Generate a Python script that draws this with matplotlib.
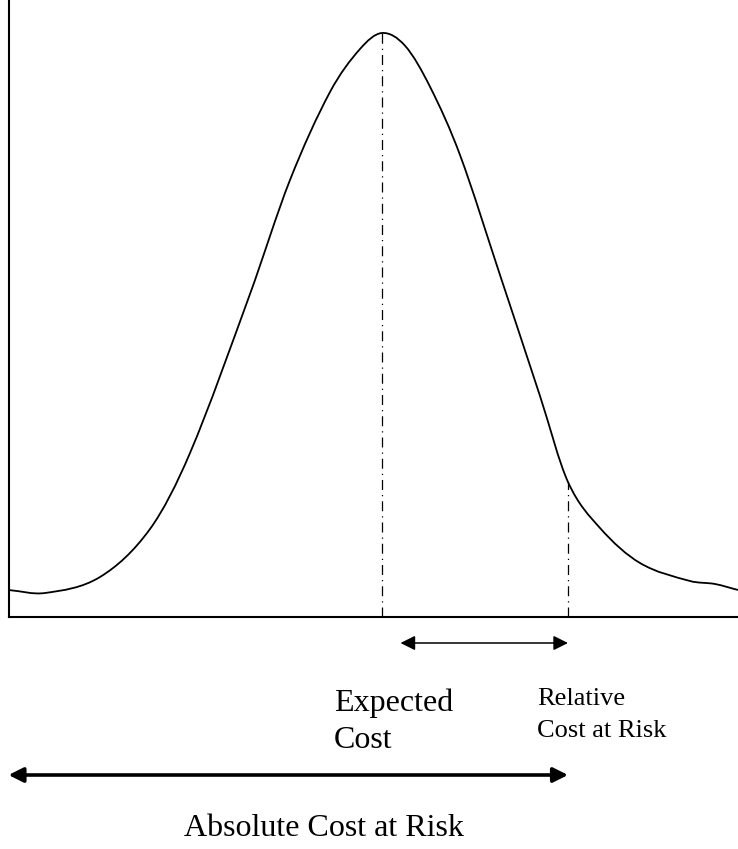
import numpy as np
import matplotlib
matplotlib.use('Agg')
import matplotlib.pyplot as plt
from matplotlib.path import Path
from matplotlib.patches import PathPatch

# cost distribution curve (axis units = pixels from origin)
cost = [0, 36.5, 91.5, 141.5, 181.5, 241.5, 281.5, 321.5, 351.5, 373.5,
        396.5, 421.5, 451.5, 491.5, 531.5, 559.5, 591.5, 631.5, 681.5, 706.5,
        729.5]
density = [27, 24, 40, 88, 164, 323, 437, 525, 568, 584,
           571.3, 530.3, 462, 342, 221, 135, 89, 54, 36, 33,
           27]

expected_cost = 373.5
expected_peak = 584
risk_cost = 559.5
risk_density = 135

expected_label = ['Expected', 'Cost']
relative_label = ['Relative', 'Cost at Risk']
absolute_label = 'Absolute Cost at Risk'


def smooth_path(xs, ys):
    # cubic hermite through the points (finite-difference slopes) as bezier segments
    x = np.asarray(xs, float)
    y = np.asarray(ys, float)
    n = len(x)
    m = np.empty(n)
    m[0] = (y[1] - y[0]) / (x[1] - x[0])
    m[-1] = (y[-1] - y[-2]) / (x[-1] - x[-2])
    m[1:-1] = (y[2:] - y[:-2]) / (x[2:] - x[:-2])
    verts = [(x[0], y[0])]
    codes = [Path.MOVETO]
    for i in range(n - 1):
        h = x[i + 1] - x[i]
        verts += [(x[i] + h / 3, y[i] + m[i] * h / 3),
                  (x[i + 1] - h / 3, y[i + 1] - m[i + 1] * h / 3),
                  (x[i + 1], y[i + 1])]
        codes += [Path.CURVE4] * 3
    return Path(verts, codes)


fig = plt.figure(figsize=(7.38, 8.49), dpi=100)
ax = fig.add_axes([8.5 / 738, 232 / 849, 729.5 / 738, 617 / 849])
ax.set_xlim(0, 729.5)
ax.set_ylim(0, 617)
for side in ('top', 'right'):
    ax.spines[side].set_visible(False)
for side in ('left', 'bottom'):
    ax.spines[side].set_linewidth(1.5)
ax.set_xticks([])
ax.set_yticks([])

ax.add_patch(PathPatch(smooth_path(cost, density), fill=False,
                       lw=1.3, color='black', clip_on=False))

dashdot = (0, (8, 4, 1, 4))
ax.plot([expected_cost, expected_cost], [0, expected_peak],
        color='black', lw=0.9, linestyle=dashdot)
ax.plot([risk_cost, risk_cost], [0, risk_density],
        color='black', lw=0.9, linestyle=dashdot)

# relative cost at risk arrow
ax.annotate('', xy=(risk_cost, -26), xytext=(392, -26),
            xycoords='data', annotation_clip=False,
            arrowprops=dict(arrowstyle='<|-|>', color='black', lw=1.1,
                            mutation_scale=22, shrinkA=0, shrinkB=0))
# absolute cost at risk arrow
ax.annotate('', xy=(risk_cost, -158), xytext=(0, -158),
            xycoords='data', annotation_clip=False,
            arrowprops=dict(arrowstyle='<|-|>', color='black', lw=2.6,
                            mutation_scale=22, shrinkA=0, shrinkB=0))

serif = ['Liberation Serif', 'DejaVu Serif']
ax.text(325.5, -94, expected_label[0], fontsize=23, family=serif,
        va='baseline', ha='left', clip_on=False)
ax.text(325.5, -131, expected_label[1], fontsize=23, family=serif,
        va='baseline', ha='left', clip_on=False)
ax.text(528.5, -88, relative_label[0], fontsize=19, family=serif,
        va='baseline', ha='left', clip_on=False)
ax.text(528.5, -120, relative_label[1], fontsize=19, family=serif,
        va='baseline', ha='left', clip_on=False)
ax.text(175.5, -219, absolute_label, fontsize=23, family=serif,
        va='baseline', ha='left', clip_on=False)

fig.savefig('out.png', dpi=100)
